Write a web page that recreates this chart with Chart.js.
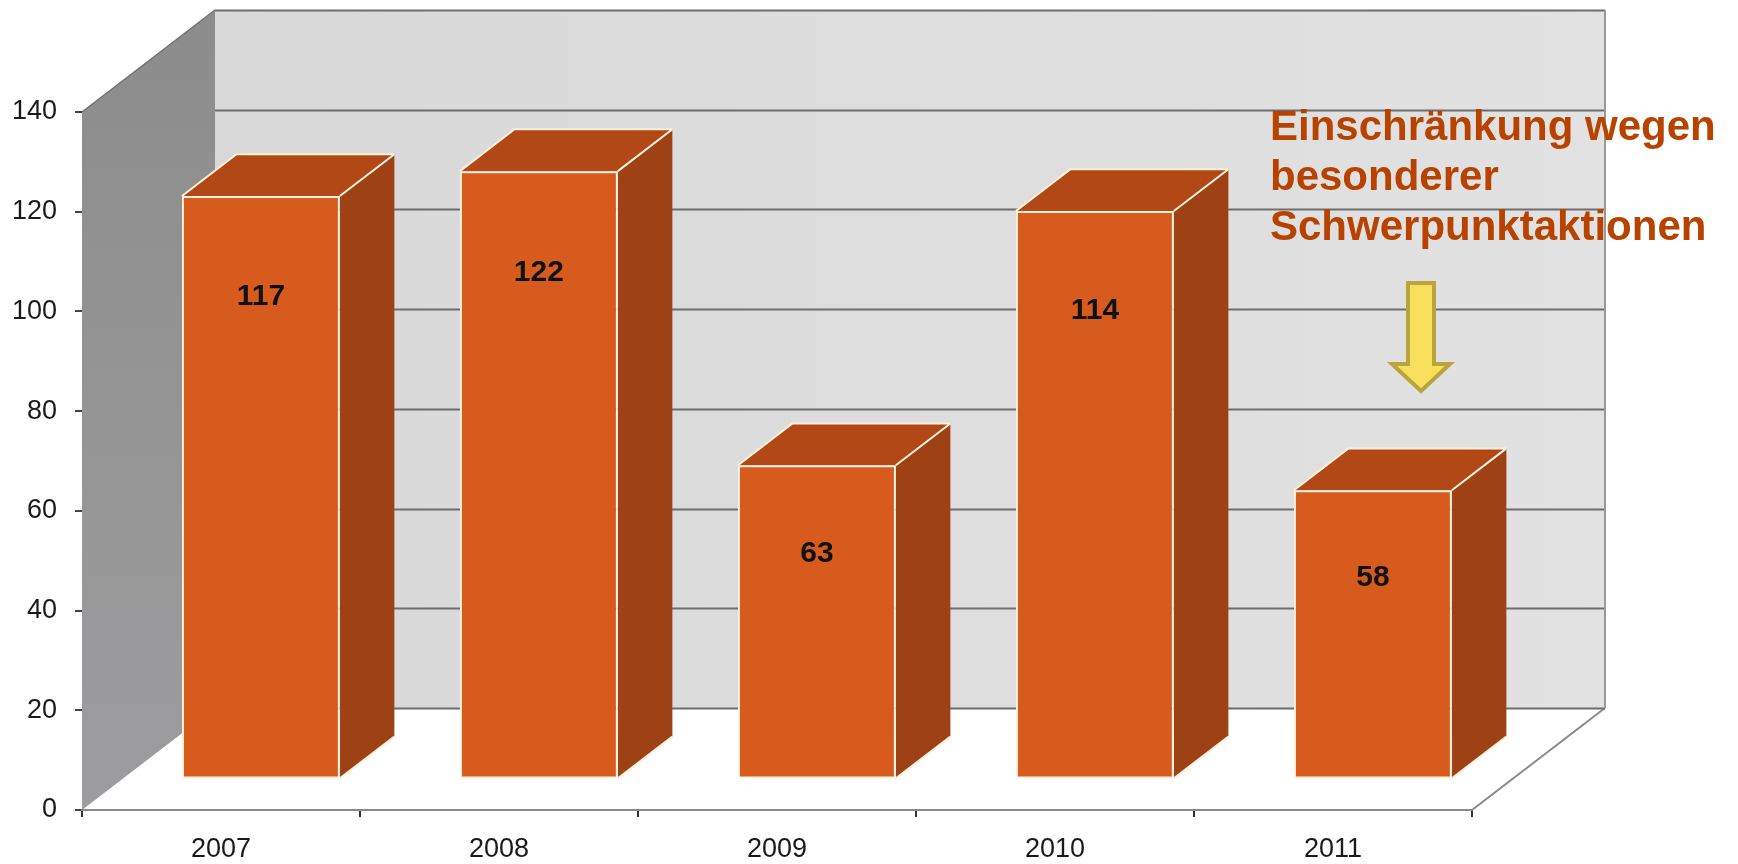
<!DOCTYPE html>
<html>
<head>
<meta charset="utf-8">
<title>Schwerpunktaktionen 2007-2011</title>
<script src="https://cdn.jsdelivr.net/npm/chart.js@4.4.0/dist/chart.umd.min.js"></script>
<style>
  html, body { margin: 0; padding: 0; background: #fff; }
  #chart { display: block; }
</style>
</head>
<body>
<canvas id="chart" width="1738" height="864"></canvas>
<script>
// Data
const years = ["2007", "2008", "2009", "2010", "2011"];
const counts = [117, 122, 63, 114, 58];
const yMin = 0;
const yMax = 140;
const yStep = 20;
const noteLines = ["Einschränkung wegen", "besonderer", "Schwerpunktaktionen"];

const FONT = "'Liberation Sans', Arial, sans-serif";

// depth of the 3d box (pixels) and where the bars sit inside it
const depth = { dx: 133, dy: -102 };
const barStart = 0.30;
const barDepth = 0.41;

// walls, floor and gridlines behind the bars
const box3d = {
  id: "box3d",
  beforeDraw(chart) {
    const ctx = chart.ctx;
    const { left, right, top, bottom } = chart.chartArea;
    const y = chart.scales.y;
    const dx = depth.dx, dy = depth.dy;

    ctx.save();

    // floor
    ctx.beginPath();
    ctx.moveTo(left, bottom);
    ctx.lineTo(right, bottom);
    ctx.lineTo(right + dx, bottom + dy);
    ctx.lineTo(left + dx, bottom + dy);
    ctx.closePath();
    ctx.fillStyle = "#ffffff";
    ctx.fill();
    ctx.beginPath();
    ctx.moveTo(right, bottom);
    ctx.lineTo(right + dx, bottom + dy);
    ctx.strokeStyle = "#8a8a8a";
    ctx.lineWidth = 2;
    ctx.stroke();

    // back wall
    const bg = ctx.createLinearGradient(left + dx, 0, right + dx, 0);
    bg.addColorStop(0, "#d8d8d8");
    bg.addColorStop(1, "#e2e2e2");
    ctx.fillStyle = bg;
    ctx.fillRect(left + dx, top + dy, right - left, bottom - top);

    // gridlines on the back wall
    ctx.lineWidth = 2;
    ctx.strokeStyle = "#6e6e6e";
    for (let v = yMin; v <= yMax; v += yStep) {
      const py = Math.round(y.getPixelForValue(v) + dy) + 0.5;
      ctx.beginPath();
      ctx.moveTo(left + dx, py);
      ctx.lineTo(right + dx, py);
      ctx.stroke();
    }
    ctx.strokeStyle = "#9a9a9a";
    ctx.beginPath();
    ctx.moveTo(right + dx, top + dy);
    ctx.lineTo(right + dx, bottom + dy);
    ctx.stroke();

    // left wall
    const lg = ctx.createLinearGradient(0, top + dy, 0, bottom);
    lg.addColorStop(0, "#8c8c8c");
    lg.addColorStop(1, "#9d9d9f");
    ctx.beginPath();
    ctx.moveTo(left, top);
    ctx.lineTo(left + dx, top + dy);
    ctx.lineTo(left + dx, bottom + dy);
    ctx.lineTo(left, bottom);
    ctx.closePath();
    ctx.fillStyle = lg;
    ctx.fill();
    ctx.beginPath();
    ctx.moveTo(left, top);
    ctx.lineTo(left + dx, top + dy);
    ctx.strokeStyle = "#707070";
    ctx.lineWidth = 1.5;
    ctx.stroke();

    ctx.restore();
  },

  beforeDatasetsDraw(chart) {
    const ctx = chart.ctx;
    const ox = depth.dx * barStart, oy = depth.dy * barStart;
    const bx = depth.dx * barDepth, by = depth.dy * barDepth;
    ctx.save();
    ctx.translate(ox, oy);

    // side and top faces of each bar
    chart.getDatasetMeta(0).data.forEach((bar) => {
      const { x, y, base, width } = bar.getProps(["x", "y", "base", "width"], true);
      const l = x - width / 2, r = x + width / 2;

      ctx.beginPath();
      ctx.moveTo(r, y);
      ctx.lineTo(r + bx, y + by);
      ctx.lineTo(r + bx, base + by);
      ctx.lineTo(r, base);
      ctx.closePath();
      ctx.fillStyle = "#9e4215";
      ctx.fill();

      ctx.beginPath();
      ctx.moveTo(l, y);
      ctx.lineTo(l + bx, y + by);
      ctx.lineTo(r + bx, y + by);
      ctx.lineTo(r, y);
      ctx.closePath();
      ctx.fillStyle = "#b34817";
      ctx.fill();

      ctx.strokeStyle = "#fff1dc";
      ctx.lineWidth = 2;
      ctx.beginPath();
      ctx.moveTo(l, y);
      ctx.lineTo(l + bx, y + by);
      ctx.lineTo(r + bx, y + by);
      ctx.moveTo(r, y);
      ctx.lineTo(r + bx, y + by);
      ctx.moveTo(r, base);
      ctx.lineTo(r + bx, base + by);
      ctx.stroke();
    });
  },

  afterDatasetsDraw(chart) {
    const ctx = chart.ctx;
    ctx.restore();

    // value labels, placed a little lower on taller bars
    const ox = depth.dx * barStart, oy = depth.dy * barStart;
    ctx.save();
    ctx.font = "bold 30px " + FONT;
    ctx.fillStyle = "#111";
    ctx.textAlign = "center";
    ctx.textBaseline = "middle";
    chart.getDatasetMeta(0).data.forEach((bar, i) => {
      const { x, y } = bar.getProps(["x", "y"], true);
      ctx.fillText(String(counts[i]), x + ox, y + oy + 75 + 0.22 * counts[i]);
    });
    ctx.restore();
  },

  afterDraw(chart) {
    const ctx = chart.ctx;
    const { right } = chart.chartArea;
    ctx.save();

    // note above the 2011 bar
    ctx.font = "bold 42px " + FONT;
    ctx.fillStyle = "#b84200";
    ctx.textAlign = "left";
    ctx.textBaseline = "alphabetic";
    noteLines.forEach((line, i) => {
      ctx.fillText(line, right - 202, 140 + i * 50);
    });

    // yellow arrow pointing down
    const ax = right - 51;
    ctx.beginPath();
    ctx.moveTo(ax - 13, 283);
    ctx.lineTo(ax + 13, 283);
    ctx.lineTo(ax + 13, 364);
    ctx.lineTo(ax + 29, 364);
    ctx.lineTo(ax, 391);
    ctx.lineTo(ax - 29, 364);
    ctx.lineTo(ax - 13, 364);
    ctx.closePath();
    ctx.fillStyle = "#f9e05c";
    ctx.fill();
    ctx.strokeStyle = "#b9a43e";
    ctx.lineWidth = 4;
    ctx.lineJoin = "miter";
    ctx.stroke();

    ctx.restore();
  }
};

new Chart(document.getElementById("chart"), {
  type: "bar",
  data: {
    labels: years,
    datasets: [{
      data: counts,
      backgroundColor: "#d85b1e",
      borderColor: "#fff1dc",
      borderWidth: 2,
      borderSkipped: false,
      categoryPercentage: 1,
      barPercentage: 0.568
    }]
  },
  options: {
    responsive: false,
    animation: false,
    layout: { padding: { top: 112, right: 266, left: 0, bottom: 0 } },
    plugins: {
      legend: { display: false },
      tooltip: { enabled: false }
    },
    scales: {
      x: {
        afterFit: (s) => { s.height = 54; },
        grid: {
          offset: true,
          drawOnChartArea: false,
          drawTicks: true,
          tickLength: 7,
          color: "#333",
          lineWidth: 2
        },
        border: { display: true, color: "#8a8a8a", width: 2 },
        ticks: {
          padding: 16,
          color: "#1a1a1a",
          font: { family: FONT, size: 27 }
        }
      },
      y: {
        min: yMin,
        max: yMax,
        afterFit: (s) => { s.width = 82; },
        grid: {
          drawOnChartArea: false,
          drawTicks: true,
          tickLength: 7,
          color: "#444",
          lineWidth: 2
        },
        border: { display: false },
        ticks: {
          stepSize: yStep,
          padding: 18,
          color: "#1a1a1a",
          font: { family: FONT, size: 27 }
        }
      }
    }
  },
  plugins: [box3d]
});
</script>
</body>
</html>
